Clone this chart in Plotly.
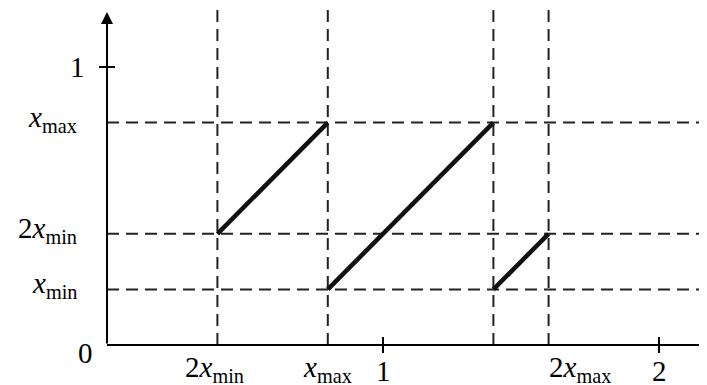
import plotly.graph_objects as go

# data
seg_x = [[0.4, 0.8], [0.8, 1.4], [1.4, 1.6]]
seg_y = [[0.4, 0.8], [0.2, 0.8], [0.2, 0.4]]
vlines = [0.4, 0.8, 1.4, 1.6]
hlines = [0.2, 0.4, 0.8]
x_tick_vals = [1, 2]
y_tick_vals = [1]
x_label_vals = [0.4, 0.8, 1, 1.6, 2]
x_label_text = ["2<i>x</i><sub>min</sub>", "<i>x</i><sub>max</sub>", "1",
                "2<i>x</i><sub>max</sub>", "2"]
y_label_vals = [1, 0.8, 0.4, 0.2]
y_label_text = ["1", "<i>x</i><sub>max</sub>", "2<i>x</i><sub>min</sub>", "<i>x</i><sub>min</sub>"]

# page has an 8px body margin; place origin at screen (107, 345)
X0, X1 = -99 / 276, 608 / 276
Y0, Y1 = -48 / 278, 337 / 278
VTOP = 1.205
YARROW = 1.198

FONT = "Liberation Serif"
FS = 29
DASH_COLOR = "#222222"

fig = go.Figure()

# dashed guide lines
for v in vlines:
    fig.add_trace(go.Scatter(x=[v, v], y=[0, VTOP], mode="lines",
                             line=dict(color=DASH_COLOR, width=2, dash="12px,7px"),
                             hoverinfo="skip", showlegend=False))
for h in hlines:
    fig.add_trace(go.Scatter(x=[0, X1 + 0.05], y=[h, h], mode="lines",
                             line=dict(color=DASH_COLOR, width=2, dash="12px,7px"),
                             hoverinfo="skip", showlegend=False))

# x axis line
fig.add_trace(go.Scatter(x=[0, X1 + 0.05], y=[0, 0], mode="lines",
                         line=dict(color="black", width=2),
                         hoverinfo="skip", showlegend=False))

# tick marks
for t in x_tick_vals:
    fig.add_trace(go.Scatter(x=[t, t], y=[-0.029, 0.029], mode="lines",
                             line=dict(color="black", width=2),
                             hoverinfo="skip", showlegend=False))
for t in y_tick_vals:
    fig.add_trace(go.Scatter(x=[-0.029, 0.029], y=[t, t], mode="lines",
                             line=dict(color="black", width=2),
                             hoverinfo="skip", showlegend=False))

# main segments
for sx, sy in zip(seg_x, seg_y):
    fig.add_trace(go.Scatter(x=sx, y=sy, mode="lines",
                             line=dict(color="#111111", width=4.5),
                             hoverinfo="skip", showlegend=False))

annotations = []
# y axis with arrow
annotations.append(dict(x=0, y=YARROW, ax=0, ay=0, xref="x", yref="y",
                        axref="x", ayref="y", text="", showarrow=True,
                        arrowhead=2, arrowsize=1.2, arrowwidth=2, arrowcolor="black"))

# x labels
x_anchor = ["center", "center", "center", "left", "center"]
x_shift = [-3, 0, 0, -2, 0]
for v, t, a, s in zip(x_label_vals, x_label_text, x_anchor, x_shift):
    plain = "<sub>" not in t
    annotations.append(dict(x=v, y=0, xref="x", yref="y", text=t, showarrow=False,
                            xanchor=a, yanchor="top", xshift=s,
                            yshift=-8 if plain else -4,
                            font=dict(family=FONT, size=FS, color="black")))
# y labels
for v, t in zip(y_label_vals, y_label_text):
    plain = "<sub>" not in t
    annotations.append(dict(x=0, y=v, xref="x", yref="y", text=t, showarrow=False,
                            xanchor="right", yanchor="middle",
                            xshift=-20 if plain else -28,
                            yshift=0 if plain else 4,
                            font=dict(family=FONT, size=FS, color="black")))
# origin label
annotations.append(dict(x=0, y=0, xref="x", yref="y", text="0", showarrow=False,
                        xanchor="right", yanchor="middle", xshift=-12, yshift=-8,
                        font=dict(family=FONT, size=FS, color="black")))

fig.update_layout(
    width=707, height=385,
    margin=dict(l=0, r=0, t=0, b=0),
    plot_bgcolor="white", paper_bgcolor="white",
    xaxis=dict(range=[X0, X1], visible=False, fixedrange=True),
    yaxis=dict(range=[Y0, Y1], visible=False, fixedrange=True),
    annotations=annotations,
)

fig.write_html("out.html")
